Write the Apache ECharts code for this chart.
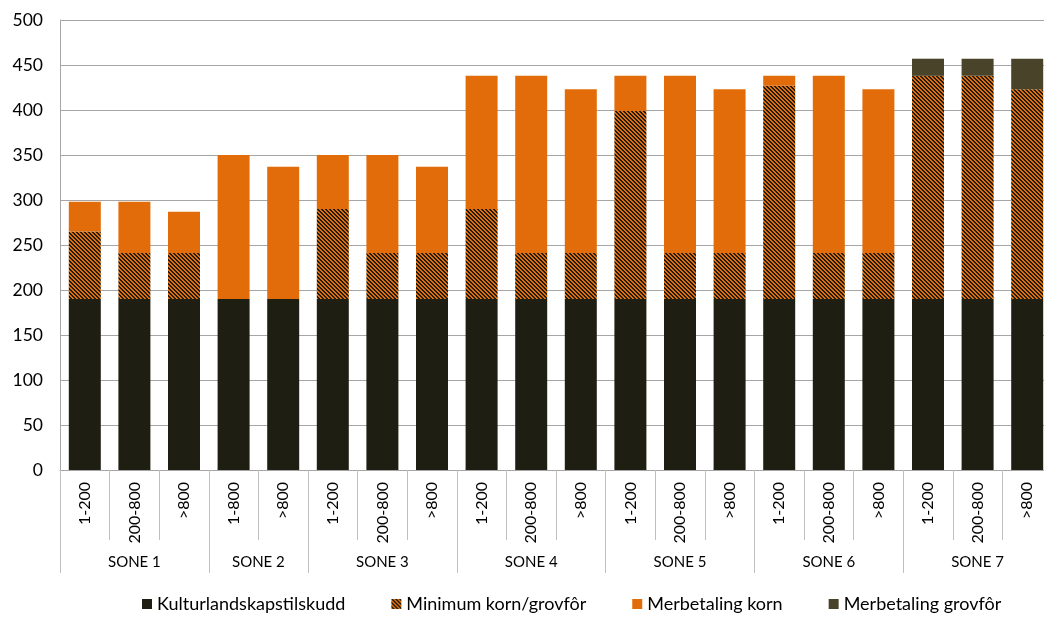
<!DOCTYPE html>
<html>
<head>
<meta charset="utf-8">
<script src="https://cdn.jsdelivr.net/npm/echarts@6/dist/echarts.min.js"></script>
<style>html,body{margin:0;padding:0;background:#fff;overflow:hidden}#c{width:1053px;height:617px}</style>
</head>
<body>
<div id="c"></div>
<script>
const categories = ['1-200','200-800','>800','1-800','>800','1-200','200-800','>800','1-200','200-800','>800','1-200','200-800','>800','1-200','200-800','>800','1-200','200-800','>800'];
const groupNames = ['SONE 1','SONE 2','SONE 3','SONE 4','SONE 5','SONE 6','SONE 7'];
const groupSizes = [3,2,3,3,3,3,3];
const kulturlandskap = [190,190,190,190,190,190,190,190,190,190,190,190,190,190,190,190,190,190,190,190];
const minimumKornGrovfor = [75,51,51,0,0,100,51,51,100,51,51,209,51,51,237,51,51,248,248,233];
const merbetalingKorn = [33,57,46,160,147,60,109,96,148,197,182,39,197,182,11,197,182,0,0,0];
const merbetalingGrovfor = [0,0,0,0,0,0,0,0,0,0,0,0,0,0,0,0,0,19,19,34];
const yTicks = {min:0,max:500,interval:50};

// group boundaries and centers (in category units)
const bounds=[0]; groupSizes.forEach(s=>bounds.push(bounds[bounds.length-1]+s));
const centers=groupSizes.map((s,i)=>bounds[i]+s/2);

// hatch pattern
const pc=document.createElement('canvas'); pc.width=8; pc.height=8;
const g=pc.getContext('2d');
g.fillStyle='#E36C0A'; g.fillRect(0,0,8,8);
g.fillStyle='#1F1E12';
for(let y=0;y<8;y++)for(let x=0;x<8;x++){ if(((x-y)%4+4)%4<2) g.fillRect(x,y,1,1); }
const hatch={image:pc,repeat:'repeat'};

const FONT='Lato, "Open Sans", sans-serif';
const chart=echarts.init(document.getElementById('c'),null,{renderer:'canvas'});
function ser(name,data,color){return {name,type:'bar',stack:'a',data,barWidth:32,itemStyle:{color},emphasis:{disabled:true}};}
chart.setOption({
  animation:false,
  textStyle:{fontFamily:FONT},
  grid:{left:60,right:1,top:20,bottom:147,containLabel:false},
  legend:{bottom:-1,left:137,itemWidth:10,itemHeight:10,itemGap:46,icon:'rect',
    textStyle:{fontFamily:FONT,fontSize:18,color:'#000'},
    data:['Kulturlandskapstilskudd','Minimum korn/grovfôr','Merbetaling korn','Merbetaling grovfôr']},
  xAxis:[{type:'category',data:categories,position:'bottom',
    axisLine:{lineStyle:{color:'#a6a6a6'}},
    axisTick:{show:true,length:70,interval:0,lineStyle:{color:'#bfbfbf'}},
    axisLabel:{rotate:90,margin:12,interval:0,fontFamily:FONT,fontSize:16,color:'#000'}},
   {type:'value',min:0,max:categories.length,position:'bottom',
    axisLine:{show:false},splitLine:{show:false},
    axisTick:{show:true,length:103,customValues:bounds,lineStyle:{color:'#bfbfbf'}},
    axisLabel:{customValues:centers,margin:85,fontFamily:FONT,fontSize:15,color:'#000',
      formatter:v=>{const i=centers.indexOf(v);return i>=0?groupNames[i]:'';}}}],
  yAxis:{type:'value',min:yTicks.min,max:yTicks.max,interval:yTicks.interval,
    axisLine:{show:true,lineStyle:{color:'#a6a6a6'}},axisTick:{show:false},
    splitLine:{lineStyle:{color:'#a6a6a6'}},
    axisLabel:{fontFamily:FONT,fontSize:17.5,color:'#000',margin:17}},
  series:[ser('Kulturlandskapstilskudd',kulturlandskap,'#1F1E12'),
    ser('Minimum korn/grovfôr',minimumKornGrovfor,hatch),
    ser('Merbetaling korn',merbetalingKorn,'#E36C0A'),
    ser('Merbetaling grovfôr',merbetalingGrovfor,'#494429')]
});
</script>
</body>
</html>
